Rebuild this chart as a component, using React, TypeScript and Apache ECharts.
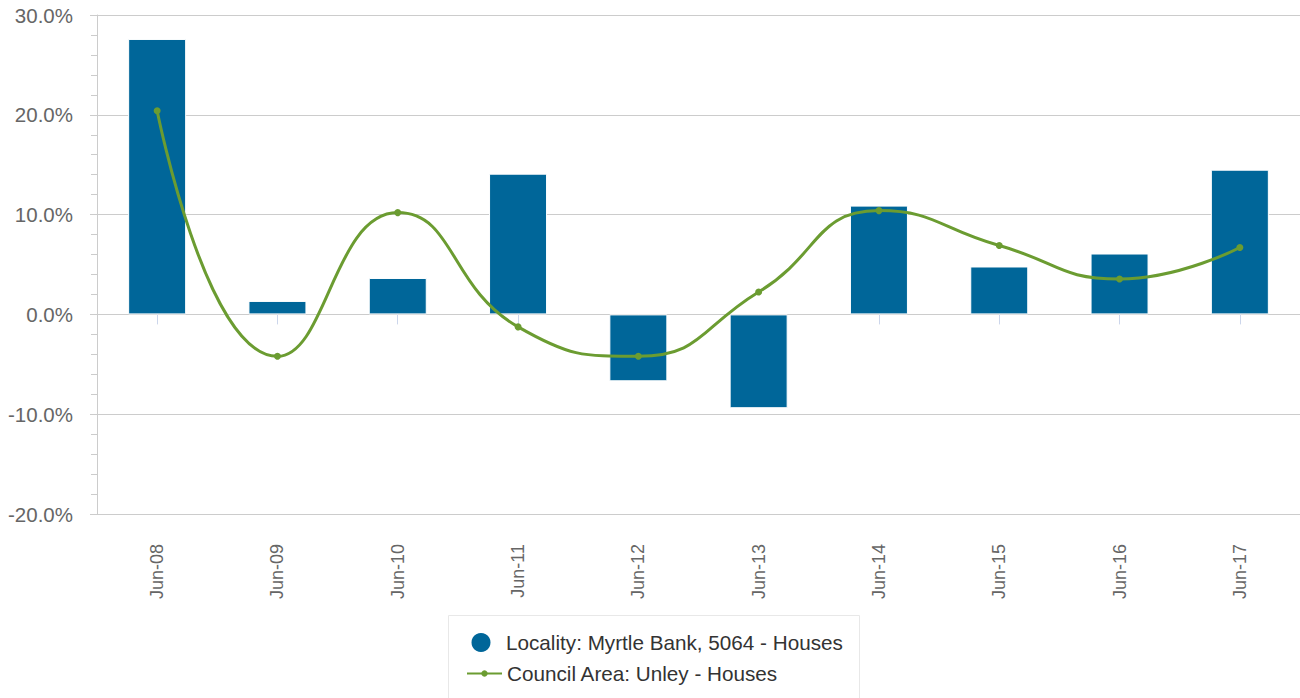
import React, { useEffect, useRef } from "react";
import * as echarts from "echarts";

const categories = ["Jun-08", "Jun-09", "Jun-10", "Jun-11", "Jun-12", "Jun-13", "Jun-14", "Jun-15", "Jun-16", "Jun-17"];
const localityValues = [27.6, 1.35, 3.65, 14.1, -6.7, -9.4, 10.9, 4.8, 6.1, 14.5];
const councilValues = [20.4, -4.2, 10.2, -1.25, -4.2, 2.25, 10.4, 6.9, 3.55, 6.7];
const localityName = "Locality: Myrtle Bank, 5064 - Houses";
const councilName = "Council Area: Unley - Houses";

const FONT = "Liberation Sans, Arial, Helvetica, sans-serif";

export default function App() {
  const ref = useRef<HTMLDivElement>(null);
  useEffect(() => {
    document.body.style.margin = "0";
    const chart = echarts.init(ref.current!, null, { renderer: "svg" });
    chart.setOption({
      animation: false,
      textStyle: { fontFamily: FONT },
      grid: { left: 97, right: 0, top: 15, bottom: 184, containLabel: false },
      legend: [
        {
          data: [{ name: localityName, icon: "circle" }],
          left: 469.5,
          top: 631,
          itemWidth: 40,
          itemHeight: 21,
          textStyle: { color: "#333", fontSize: 20.7, fontFamily: FONT },
          padding: 0,
        },
        {
          data: [{ name: councilName }],
          left: 466,
          top: 663,
          itemWidth: 35,
          itemHeight: 8,
          textStyle: { color: "#333", fontSize: 20.7, fontFamily: FONT },
          padding: 0,
        },
      ],
      graphic: [
        {
          type: "rect",
          shape: { x: 448.5, y: 615.5, width: 411, height: 90 },
          style: { fill: "none", stroke: "#e8e8e8", lineWidth: 1 },
          silent: true,
        },
      ],
      xAxis: {
        type: "category",
        data: categories,
        boundaryGap: true,
        axisLine: { show: true, lineStyle: { color: "#ccc", width: 1 } },
        axisTick: { show: true, alignWithLabel: true, length: 10, lineStyle: { color: "#ccd6eb" } },
        axisLabel: { rotate: 90, margin: 30, color: "#666", fontSize: 18, fontFamily: FONT },
        splitLine: { show: false },
      },
      yAxis: {
        type: "value",
        min: -20,
        max: 30,
        interval: 10,
        axisLine: { show: true, lineStyle: { color: "#ccc" } },
        axisTick: { show: true, length: 7, lineStyle: { color: "#ccc" } },
        minorTick: { show: true, splitNumber: 5, length: 6, lineStyle: { color: "#ccc" } },
        splitLine: { show: true, lineStyle: { color: "#ccc" } },
        axisLabel: {
          margin: 24,
          color: "#666",
          fontSize: 20.5,
          fontFamily: FONT,
          formatter: (v: number) => v.toFixed(1) + "%",
        },
      },
      series: [
        {
          name: localityName,
          type: "bar",
          data: localityValues,
          barWidth: 58,
          itemStyle: { color: "#006699", borderColor: "#fff", borderWidth: 1 },
          z: 2,
        },
        {
          name: councilName,
          type: "line",
          data: councilValues,
          smooth: 0.5,
          symbol: "circle",
          symbolSize: 7,
          lineStyle: { color: "#6b9c31", width: 3 },
          itemStyle: { color: "#6b9c31" },
          z: 3,
        },
      ],
    });
    return () => chart.dispose();
  }, []);
  return <div ref={ref} style={{ width: 1300, height: 698 }} />;
}
